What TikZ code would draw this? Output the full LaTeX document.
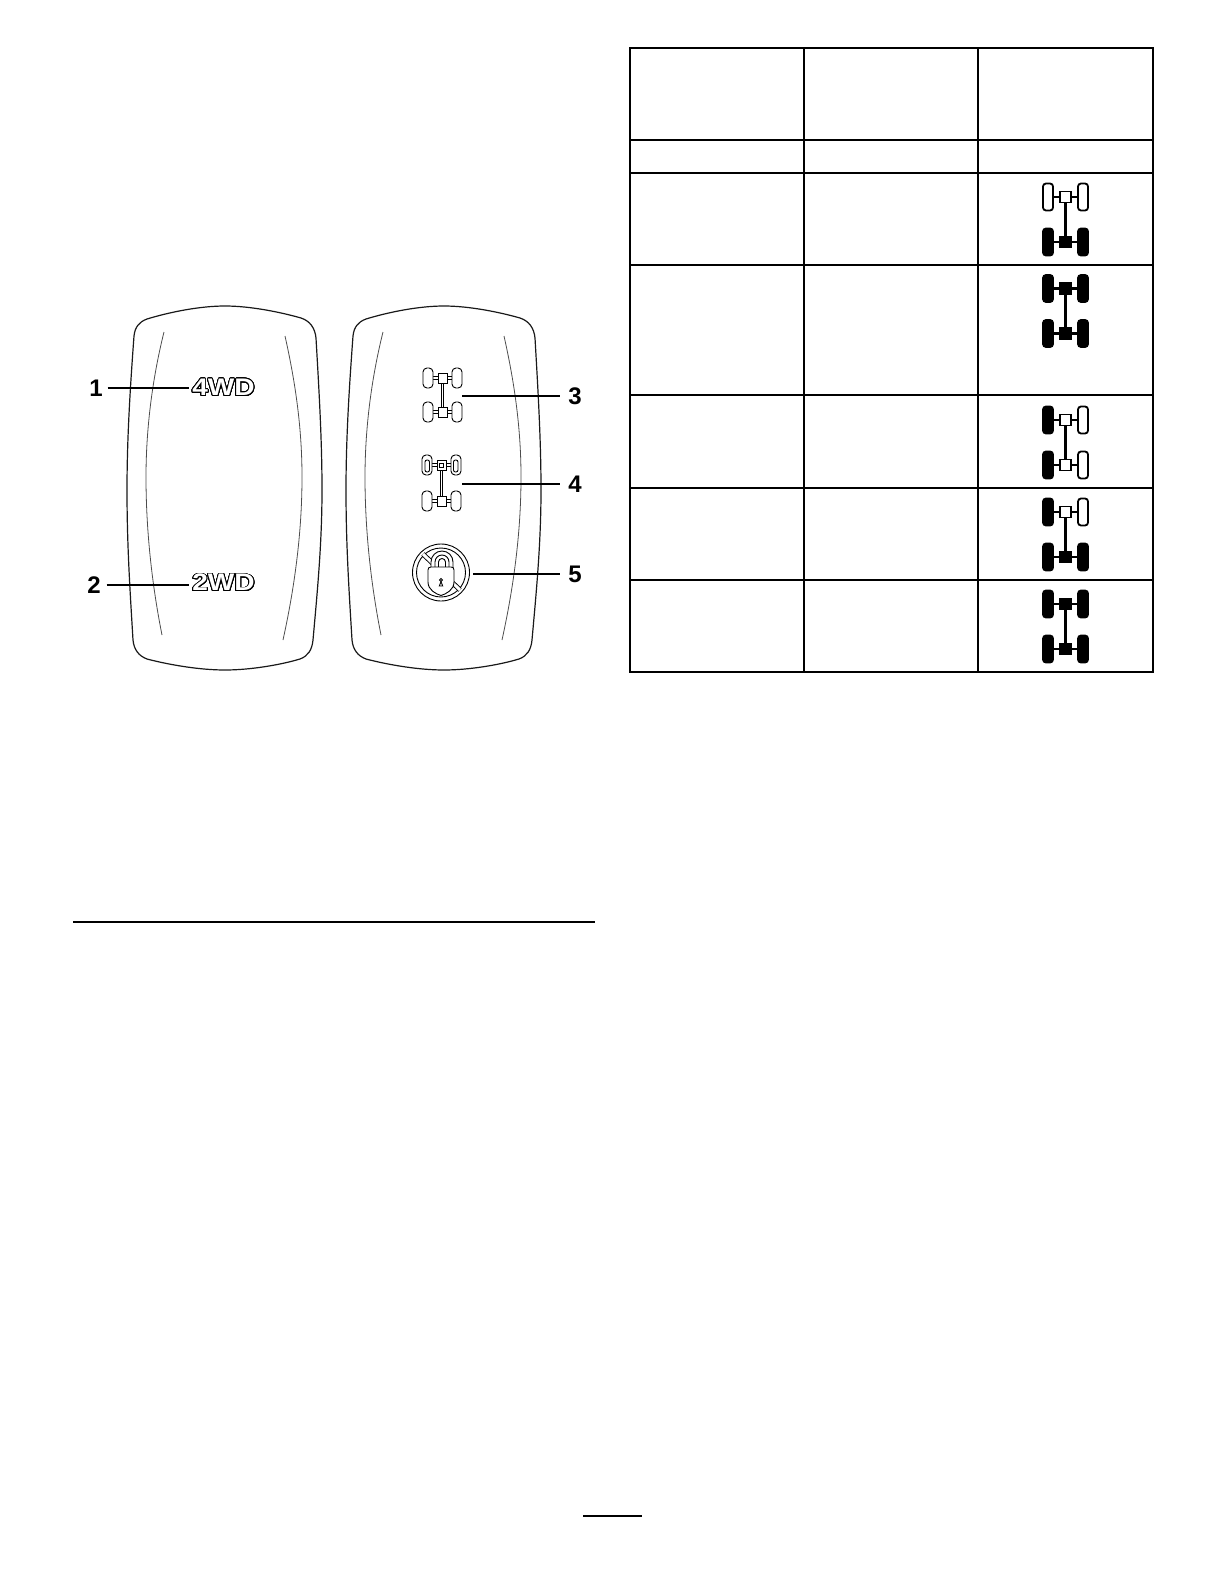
\documentclass[tikz,border=0pt]{standalone}
\usepackage{fontspec}
\usepackage{contour}
\setmainfont{Liberation Sans}
\newfontfamily\wdfont[FakeStretch=1.17]{Liberation Sans}
\contourlength{0.9pt}
\contournumber{32}
\tikzset{
	numlabel/.style={inner sep=0pt, outer sep=5pt, font=\bfseries\fontsize{24}{26}\selectfont},
	wdlabel/.style={inner sep=0pt, outer sep=3pt, text=white, font=\wdfont\bfseries\fontsize{24}{26}\selectfont},
	leader/.style={line width=1.7pt},
	shell/.style={line width=1.2pt, black!90},
	innerarc/.style={line width=0.8pt, black!70},
	thin line/.style={line width=0.9pt},
	grid line/.style={line width=2.2pt},
	on/.style={fill=black},
	off/.style={fill=white},
	% axe du tableau : roue gauche, moyeu, roue droite
	pics/axle/.style n args={3}{code={
		\draw[line width=2.4pt] (-18,0) -- (18,0);
		\draw[#1, line width=1.8pt, rounded corners=3pt] (-22.5,-13.5) rectangle (-12.5,13.5);
		\draw[#3, line width=1.8pt, rounded corners=3pt] (12.5,-13.5) rectangle (22.5,13.5);
		\draw[#2, line width=1.8pt] (-5.5,-5.5) rectangle (5.5,5.5);
	}},
	% axe du symbole sur le bouton
	pics/swaxle/.style={code={
		\draw[thin line, double=white, double distance=1.6pt] (-11,0) -- (11,0);
		\draw[thin line, fill=white, rounded corners=4pt] (-19.5,-10) rectangle (-9.5,10);
		\draw[thin line, fill=white, rounded corners=4pt] (9.5,-10) rectangle (19.5,10);
		\draw[thin line, fill=white] (-4.5,-5) rectangle (4.5,5);
	}},
	% contour du bouton
	pics/rocker/.style={code={
		\draw[shell] (147,319) .. controls (170,312) and (200,306) .. (225,306)
			.. controls (250,306) and (280,312) .. (301,318)
			.. controls (310,321) and (315,328) .. (316,338)
			.. controls (319,390) and (322,440) .. (322,490)
			.. controls (322,545) and (317,595) .. (313,640)
			.. controls (312,650) and (308,656) .. (300,659)
			.. controls (280,665) and (250,670) .. (225,670)
			.. controls (200,670) and (170,665) .. (147,659)
			.. controls (139,656) and (134,650) .. (133,640)
			.. controls (130,590) and (127,545) .. (127,490)
			.. controls (127,440) and (130,390) .. (134,336)
			.. controls (135,327) and (139,322) .. (147,319) -- cycle;
		\draw[innerarc] (164,332) .. controls (152,380) and (146,430) .. (146,477)
			.. controls (146,535) and (153,590) .. (162,635);
		\draw[innerarc] (285,336) .. controls (296,385) and (302,430) .. (302,477)
			.. controls (302,535) and (294,590) .. (283,640);
	}}
}
\begin{document}
\begin{tikzpicture}[x=1pt, y=-1pt]
	\useasboundingbox (0,0) rectangle (1224,1584);
	%Les deux boutons
	\pic at (0,0) {rocker};
	\pic at (219,0) {rocker};
	
	%Bouton de gauche
	\node[wdlabel] (T4) at (223.5,388) {\contour{black}{4WD}};
	\node[wdlabel] (T2) at (223.5,583) {\contour{black}{2WD}};
	\node[numlabel] (N1) at (96,388) {1};
	\node[numlabel] (N2) at (94,585) {2};
	\draw[leader] (N1) -- (N1-|T4.west);
	\draw[leader, shorten <=1pt] (N2) -- (N2-|T2.west);
	
	%Symboles du bouton de droite
	\draw[thin line, double=white, double distance=1.6pt] (442.5,378) -- (442.5,412);
	\pic at (442.5,378) {swaxle};
	\pic at (442.5,412) {swaxle};
	
	\draw[thin line, double=white, double distance=1.6pt] (441.5,465) -- (441.5,501);
	\pic at (441.5,465) {swaxle};
	\pic at (441.5,501) {swaxle};
	\draw[thin line, rounded corners=2pt] (425,460) rectangle (429.5,472);
	\draw[thin line, rounded corners=2pt] (453.5,460) rectangle (458,472);
	\draw[thin line] (439.5,463) rectangle (443.5,467);
	
	\coordinate (C3) at (462,396);
	\coordinate (C4) at (462,484);
	\coordinate (C5) at (473,574);
	\node[numlabel] (N3) at (575,396) {3};
	\node[numlabel] (N4) at (575,484) {4};
	\node[numlabel] (N5) at (575,574) {5};
	\draw[leader, shorten >=3pt] (C3) -- (N3);
	\draw[leader, shorten >=3pt] (C4) -- (N4);
	\draw[leader, shorten >=3pt] (C5) -- (N5);
	
	%Cadenas barre
	\draw[thin line] (441,572.5) circle (28.5);
	\draw[thin line] (441,572.5) circle (24.5);
	\draw[thin line, double=white, double distance=3pt] (423,554) -- (460,590);
	\draw[thin line, fill=white] (431,570) -- (431,562) arc[start angle=180, end angle=360, radius=11] -- (453,570) -- cycle;
	\draw[thin line, fill=white] (435,570) -- (435,562) arc[start angle=180, end angle=360, radius=7] -- (449,570) -- cycle;
	\draw[thin line, fill=white] (438.5,570) -- (438.5,562) arc[start angle=180, end angle=360, radius=3.5] -- (445.5,570) -- cycle;
	\draw[thin line, fill=white] (431,567) -- (451,567)
		.. controls (453,567) and (454,568) .. (454,570) -- (454,582)
		.. controls (454,590) and (446,594) .. (441,595.5)
		.. controls (436,594) and (428,590) .. (428,582) -- (428,570)
		.. controls (428,568) and (429,567) .. (431,567) -- cycle;
	\draw[thin line] (441,580) circle (1.6);
	\draw[thin line] (441,581.6) -- (439.3,586) -- (442.7,586) -- cycle;
	
	%Filets de la page
	\draw[line width=1.4pt] (73,922) -- (595,922);
	\draw[line width=1.4pt] (583,1516) -- (642,1516);
	
	%Tableau
	\foreach \x in {630,803.7,977.7,1153.3}
		\draw[grid line] (\x,47.7) -- (\x,671.7);
	\foreach \y in {47.7,139.7,172.7,265,395,487.7,579.7,671.7}
		\draw[grid line] (629,\y) -- (1154.3,\y);
	
	%Symboles du tableau
	\foreach \yt/\a/\b/\c/\d/\e/\f in {
		197/off/off/off/on/on/on,
		288.5/on/on/on/on/on/on,
		420/on/off/off/on/off/off,
		512/on/off/off/on/on/on,
		604/on/on/on/on/on/on}{
		\draw[line width=2.4pt] (1065.5,\yt) -- (1065.5,\yt+45);
		\pic at (1065.5,\yt) {axle={\a}{\b}{\c}};
		\pic at (1065.5,\yt+45) {axle={\d}{\e}{\f}};
	}
\end{tikzpicture}
\end{document}
